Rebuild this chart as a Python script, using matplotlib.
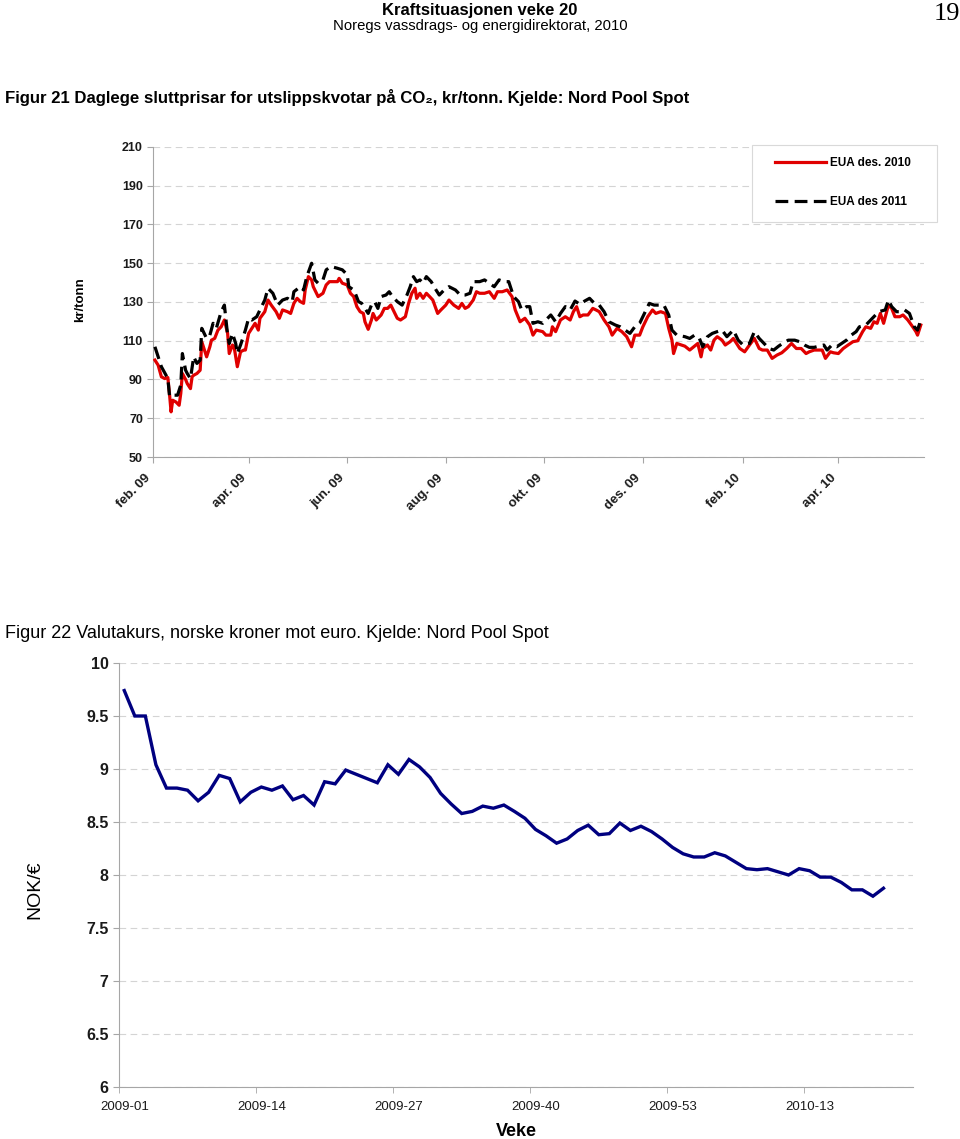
import matplotlib
matplotlib.use('Agg')
import matplotlib.pyplot as plt
import matplotlib.ticker as mticker
from matplotlib.patches import Rectangle
import numpy as np
import pandas as pd

plt.rcParams['font.family'] = ['Liberation Sans', 'DejaVu Sans']

# Figur 21: dagar etter 1. feb. 2009 og pris (kr/tonn)
red_day = [1, 3, 5, 7, 9, 10, 11, 12, 14, 16, 17, 18, 20, 21, 23, 24, 25, 27, 29, 30,
           33, 35, 36, 38, 40, 42, 44, 46, 47, 49, 50, 52, 54, 56, 57, 59, 61, 63, 65, 66,
           69, 71, 73, 76, 78, 80, 83, 85, 87, 89, 91, 93, 94, 96, 98, 99, 102, 105, 107, 109,
           111, 114, 115, 117, 120, 122, 124, 126, 128, 130, 131, 133, 135, 136, 138, 141, 143, 145, 147, 149,
           151, 153, 156, 158, 160, 162, 163, 165, 167, 169, 171, 173, 176, 178, 181, 183, 186, 189, 191, 193,
           195, 198, 200, 202, 205, 208, 211, 213, 216, 219, 222, 224, 227, 230, 233, 235, 237, 241, 243, 246,
           247, 249, 252, 255, 258, 260, 262, 264, 266, 269, 272, 274, 276, 279, 282, 284, 287, 290, 293, 296,
           298, 301, 303, 306, 309, 311, 314, 317, 319, 321, 322, 324, 329, 332, 335, 337, 339, 340, 343, 345,
           347, 349, 352, 354, 357, 359, 361, 363, 366, 369, 372, 375, 377, 380, 383, 386, 389, 392, 395, 398,
           401, 404, 406, 409, 414, 416, 419, 421, 424, 427, 430, 433, 436, 439, 441, 444, 446, 448, 450, 452,
           455, 457, 459, 462, 464, 467, 470, 472, 473, 475]
red_val = [100, 97.4, 91.4, 90.5, 91, 82.8, 73.3, 79.3, 78.4, 76.7, 82.8, 93.1, 90, 87.9, 85.3, 91.4, 92.2, 93.1, 94.8, 109.5,
           101.7, 106.9, 110.3, 111.2, 115.5, 117.2, 120.7, 113.8, 103.4, 107.8, 106.9, 96.6, 104.3, 105.2, 105.2, 113.8, 116.4, 119, 115.5, 121.6,
           125, 131, 128.4, 125, 121.6, 125.9, 125, 124.1, 129.3, 131.9, 130.2, 129.3, 136.2, 143.1, 141.4, 137.9, 132.8, 134.5, 138.8, 140.5,
           140.5, 140.5, 142.2, 139.7, 138.8, 134.5, 132.8, 127.6, 125, 124.1, 119.8, 115.9, 120.7, 124.1, 120.7, 123.3, 126.7, 126.7, 128.4, 125,
           121.6, 120.7, 122.4, 129.3, 134.5, 137.1, 131.9, 134.5, 131.9, 134.5, 132.8, 131, 124.1, 125.9, 128.4, 131, 128.4, 126.7, 129.3, 126.7,
           127.6, 131, 135.3, 134.5, 134.5, 135.3, 131.9, 135.3, 135.3, 136.2, 132.8, 125.9, 119.8, 121.6, 118.1, 112.9, 115.5, 114.7, 112.9, 112.9,
           117.2, 114.7, 120.7, 122.4, 120.7, 125, 127.6, 122.4, 123.3, 123.3, 126.7, 125.9, 125, 120.7, 117.2, 112.9, 116.4, 114.7, 112.1, 106.9,
           112.9, 112.9, 117.2, 122.4, 125.9, 124.1, 125, 124.1, 116.4, 110.3, 103.4, 108.6, 107.2, 105.2, 107.2, 108.6, 101.7, 106, 107.8, 105.2,
           110.3, 112.1, 110.3, 107.8, 109.5, 111.2, 108.6, 106, 104.3, 107.8, 111.2, 106, 105.2, 105.2, 100.9, 102.6, 103.8, 106, 108.6, 106,
           106, 103.4, 104.3, 105.2, 105.2, 100.9, 104.3, 103.8, 103.4, 106, 107.8, 109.5, 110, 114.7, 117.2, 116.4, 119.8, 119, 124.1, 119,
           128.4, 126.7, 122.4, 122.4, 123.3, 120.7, 117.2, 114.7, 112.9, 118.1]

blk_day = [1, 3, 5, 9, 10, 11, 13, 15, 17, 18, 20, 21, 23, 25, 27, 29, 30, 33, 35, 37,
           39, 42, 44, 46, 47, 49, 51, 52, 54, 57, 59, 61, 64, 66, 69, 71, 74, 77, 80, 83,
           86, 87, 91, 93, 95, 98, 100, 102, 105, 107, 110, 114, 117, 120, 121, 124, 125, 127, 129, 131,
           133, 135, 137, 139, 141, 144, 146, 148, 151, 154, 157, 159, 161, 163, 165, 167, 169, 172, 175, 177,
           180, 183, 187, 190, 193, 196, 198, 202, 205, 208, 211, 214, 217, 220, 223, 226, 228, 231, 233, 235,
           238, 241, 246, 249, 252, 255, 258, 261, 264, 267, 270, 273, 276, 279, 282, 286, 289, 292, 295, 298,
           301, 304, 307, 310, 313, 316, 319, 321, 324, 329, 332, 335, 338, 340, 343, 346, 349, 352, 355, 359,
           362, 365, 369, 372, 375, 378, 381, 384, 387, 390, 393, 397, 400, 403, 406, 409, 415, 417, 420, 423,
           429, 432, 435, 437, 441, 444, 447, 449, 453, 455, 457, 460, 463, 465, 468, 471, 473, 475]
blk_val = [106.9, 101.7, 96.6, 90.5, 81.9, 82.8, 81.9, 81.9, 87.1, 103.4, 94.8, 93.1, 90.5, 101.7, 98.3, 100, 116.4, 111.2, 112.9, 119,
           116.4, 125, 128.4, 112.9, 108.6, 113.8, 108.6, 103.4, 107.8, 115.5, 121.6, 120.7, 122.4, 125.9, 131, 137.1, 134.5, 128.4, 131, 131.9,
           130.2, 135.3, 137.9, 136.2, 143.1, 150, 141.4, 139.7, 141.4, 146.6, 148.3, 147.4, 146.6, 144.1, 137.9, 136.2, 134.5, 130.2, 129.3, 126.7,
           124.1, 128.4, 130.2, 126.7, 132.8, 133.6, 135.3, 132.8, 130.2, 128.4, 133.6, 137.9, 143.1, 140.5, 141.4, 139.7, 143.1, 140.5, 136.2, 133.6,
           136.2, 137.9, 136.2, 133.6, 133.6, 134.5, 140.5, 140.5, 141.4, 139.7, 137.9, 141.4, 140.5, 140.5, 132.8, 130.2, 125.9, 127.6, 127.6, 119,
           119.8, 119, 123.3, 119.8, 124.1, 127.6, 125.9, 130.5, 128.8, 130.5, 131.9, 129.3, 128.4, 125, 119.8, 118.1, 117.2, 115.5, 113.8, 117.2,
           119, 124.1, 129.3, 128.4, 128.4, 128.4, 123.3, 115.5, 112.9, 112.1, 111.2, 112.9, 111.2, 106.9, 112.1, 113.8, 114.7, 115.5, 112.1, 115.5,
           110.3, 107.8, 108.6, 114.7, 111.2, 108.6, 106, 105.2, 107.2, 108.9, 110.3, 110.3, 109.5, 107.8, 106.6, 106.6, 107.8, 105.2, 107.8, 106.9,
           110.3, 112.9, 114.7, 117.2, 118.1, 120.7, 123.3, 125, 125.9, 131, 127.6, 125, 125, 125.9, 124.1, 117.2, 115.5, 120.7]

month_ticks = ['2009-02-01', '2009-04-01', '2009-06-01', '2009-08-01',
               '2009-10-01', '2009-12-01', '2010-02-01', '2010-04-01']
month_labels = ['feb. 09', 'apr. 09', 'jun. 09', 'aug. 09',
                'okt. 09', 'des. 09', 'feb. 10', 'apr. 10']

# Figur 22: vekekurs NOK/EUR
weeks = ['2009-%02d' % w for w in range(1, 54)] + ['2010-%02d' % w for w in range(1, 23)]
nok_eur = [9.74, 9.50, 9.50, 9.04, 8.82, 8.82, 8.80, 8.70, 8.78, 8.94, 8.91, 8.69, 8.78, 8.83, 8.80,
           8.84, 8.71, 8.75, 8.66, 8.88, 8.86, 8.99, 8.95, 8.91, 8.87, 9.04, 8.95, 9.09, 9.02, 8.92,
           8.77, 8.67, 8.58, 8.60, 8.65, 8.63, 8.66, 8.60, 8.535, 8.43, 8.37, 8.30, 8.34, 8.42, 8.47,
           8.38, 8.39, 8.49, 8.42, 8.46, 8.41, 8.34, 8.26, 8.20, 8.17, 8.17, 8.21, 8.18, 8.12, 8.06,
           8.05, 8.06, 8.03, 8.00, 8.06, 8.04, 7.98, 7.98, 7.93, 7.86, 7.86, 7.80, 7.875]
week_labels = ['2009-01', '2009-14', '2009-27', '2009-40', '2009-53', '2010-13']

W, H = 960, 1139
fig = plt.figure(figsize=(W / 100, H / 100), dpi=100)

# topptekst
fig.text(480 / W, 1 - 10 / H, 'Kraftsituasjonen veke 20', ha='center', va='center',
         fontsize=12, fontweight='bold')
fig.text(480 / W, 1 - 26 / H, 'Noregs vassdrags- og energidirektorat, 2010', ha='center',
         va='center', fontsize=10.7)
fig.text(947 / W, 1 - 14 / H, '19', ha='center', va='center', fontsize=19,
         family='Liberation Serif')

fig.text(5 / W, 1 - 97 / H,
         'Figur 21 Daglege sluttprisar for utslippskvotar på CO\u2082, kr/tonn. Kjelde: Nord Pool Spot',
         ha='left', va='center', fontsize=12.1, fontweight='bold')

gridc = '#d4d4d4'
axc = '#a6a6a6'

# ---- figur 21 ----
start = pd.Timestamp('2009-02-01')
red_dates = start + pd.to_timedelta(red_day, unit='D')
blk_dates = start + pd.to_timedelta(blk_day, unit='D')

ax1 = fig.add_axes([153.3 / W, 1 - 457 / H, 770.7 / W, 310 / H])
ax1.plot(red_dates, red_val, color='#e00000', lw=2.3, label='EUA des. 2010', zorder=3)
ax1.plot(blk_dates, blk_val, color='black', lw=2.3, dashes=(4, 2), label='EUA des 2011', zorder=4)
ax1.set_ylim(50, 210)
ax1.set_yticks(range(50, 211, 20))
ax1.set_xlim(start, start + pd.Timedelta(days=477))
ax1.set_xticks(pd.to_datetime(month_ticks))
ax1.set_xticklabels(month_labels, rotation=45, ha='right', va='bottom', rotation_mode='anchor',
                    fontsize=9.5, fontweight='bold')
for lab in ax1.get_yticklabels():
    lab.set_fontweight('bold')
    lab.set_fontsize(9)
ax1.yaxis.grid(True, ls=(0, (6, 4)), color=gridc, lw=0.8)
ax1.set_axisbelow(True)
for s in ['top', 'right']:
    ax1.spines[s].set_visible(False)
for s in ['left', 'bottom']:
    ax1.spines[s].set_color(axc)
ax1.tick_params(axis='both', colors=axc, labelcolor='#1a1a1a', length=4, width=0.8)
ax1.tick_params(axis='x', pad=13)
fig.text(80 / W, 1 - 300 / H, 'kr/tonn', rotation=90, ha='center', va='center',
         fontsize=9.5, fontweight='bold')

# forklaring med eiga ramme
fig.patches.append(Rectangle((752 / W, 1 - 222 / H), 185 / W, 77 / H, transform=fig.transFigure,
                             facecolor='white', edgecolor='#d9d9d9', lw=0.8, zorder=5))
leg = fig.legend(handles=ax1.get_lines(), loc='upper left', bbox_to_anchor=(775 / W, 1 - 157 / H),
                 frameon=False, fontsize=8.5, handlelength=4.3, labelspacing=2.3,
                 borderpad=0, handletextpad=0.4, borderaxespad=0)
leg.set_zorder(6)
for t in leg.get_texts():
    t.set_fontweight('bold')

# ---- figur 22 ----
fig.text(5 / W, 1 - 633 / H, 'Figur 22 Valutakurs, norske kroner mot euro. Kjelde: Nord Pool Spot',
         ha='left', va='center', fontsize=13)

ax2 = fig.add_axes([119 / W, 1 - 1087 / H, 794 / W, 424 / H])
x = np.arange(len(nok_eur))
ax2.plot(x, nok_eur, color='#000080', lw=2.4, solid_joinstyle='miter')
ax2.set_xlim(-0.5, 74.8)
ax2.set_ylim(6, 10)
ax2.set_yticks(np.arange(6, 10.01, 0.5))
ax2.yaxis.set_major_formatter(mticker.FormatStrFormatter('%g'))
pos = [weeks.index(w) for w in week_labels]
ax2.set_xticks(pos)
ax2.set_xticklabels(week_labels, fontsize=9.5)
ax2.set_xticks([p - 0.5 for p in pos], minor=True)
ax2.tick_params(axis='x', which='major', length=0, pad=10, labelcolor='#1a1a1a')
ax2.tick_params(axis='x', which='minor', length=4, color=axc)
ax2.tick_params(axis='y', length=4, color=axc, labelcolor='#1a1a1a')
for lab in ax2.get_yticklabels():
    lab.set_fontweight('bold')
    lab.set_fontsize(11.5)
ax2.yaxis.grid(True, ls=(0, (6, 4)), color=gridc, lw=0.8)
ax2.set_axisbelow(True)
for s in ['top', 'right']:
    ax2.spines[s].set_visible(False)
for s in ['left', 'bottom']:
    ax2.spines[s].set_color(axc)
fig.text(516 / W, 1 - 1131 / H, 'Veke', ha='center', va='center', fontsize=13, fontweight='bold')
fig.text(35 / W, 1 - 890 / H, 'NOK/\u20ac', rotation=90, ha='center', va='center', fontsize=14)

fig.savefig('out.png', dpi=100)
